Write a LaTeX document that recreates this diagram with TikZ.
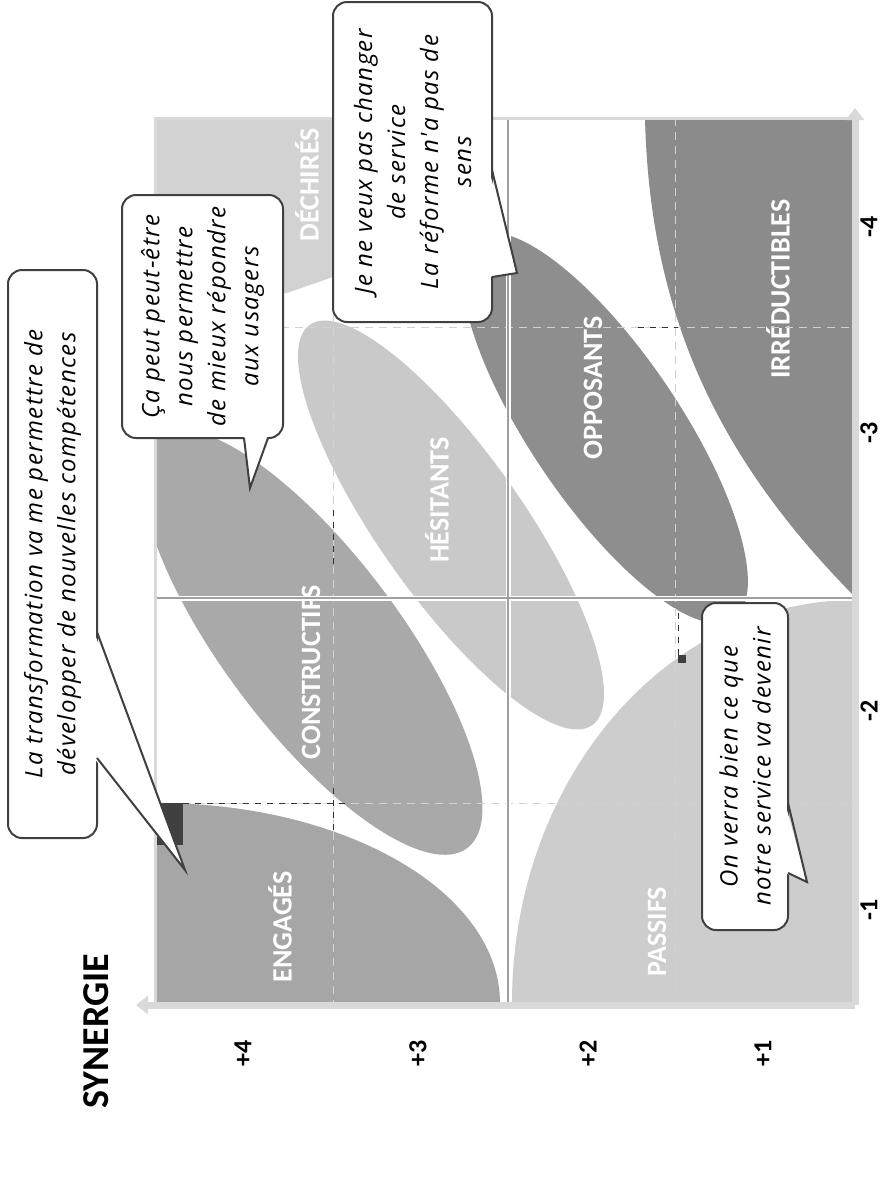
\documentclass[tikz,border=0pt]{standalone}
\usepackage{fontspec}
\setmainfont{Carlito}
\newfontfamily\handfont{Open Sans}[LetterSpace=6]
\usetikzlibrary{arrows.meta}
\definecolor{engage}{HTML}{A6A6A6}
\definecolor{construct}{HTML}{A9A9A9}
\definecolor{hesite}{HTML}{C9C9C9}
\definecolor{dechire}{HTML}{D2D2D2}
\definecolor{passif}{HTML}{CDCDCD}
\definecolor{oppose}{HTML}{8E8E8E}
\definecolor{irreduct}{HTML}{8B8B8B}
\tikzset{
  zone/.style={
    text=white,
    font=\bfseries\fontsize{14}{14}\selectfont,
    rotate=90,
    inner sep=0pt
  },
  bubble/.style={
    draw=black!75,
    line width=1pt,
    fill=white,
    rounded corners=7pt,
    rotate=90,
    align=center,
    inner sep=0pt,
    font=\handfont\itshape\fontsize{12}{16.5}\selectfont
  },
  tailline/.style={draw=black!75, line width=1pt},
  tick/.style={font=\bfseries\fontsize{13}{13}\selectfont, rotate=90},
  divider/.style={draw=gray!75, line width=0.9pt},
  gridline/.style={draw=gray!35, line width=0.5pt, dash pattern=on 4pt off 3pt},
  guide/.style={draw=black!80, line width=0.5pt, dash pattern=on 3pt off 3pt},
  axisbar/.style={draw=gray!30, line width=3.5pt, -{Triangle[length=6pt,width=9pt]}}
}

\begin{document}
\begin{tikzpicture}[x=0.5pt,y=-0.5pt]
    \useasboundingbox (0,0) rectangle (891,1179);

    \begin{scope}
    \clip (155,118) rectangle (855,1003);
    \fill[dechire] (155,118) -- (333,118) -- (333,277) -- (287,293) -- (155,293) -- cycle;
    \fill[passif] (855,1003) ellipse [x radius=343, y radius=403];
    \fill[engage] (157,1003) ellipse [x radius=343, y radius=200];
    \fill[irreduct] (645,118) .. controls (650,330) and (730,470) .. (855,597) -- (855,118) -- cycle;
    \fill[hesite, rotate around={-54.8:(451,525)}] (451,525) ellipse [x radius=245, y radius=72];
    \fill[construct, rotate around={-53:(312,642)}] (312,642) ellipse [x radius=258, y radius=88];
    \fill[oppose, rotate around={-56:(605,428)}] (605,428) ellipse [x radius=230, y radius=75];
    \end{scope}

    \node[zone] (dechires) at (307,185) {DÉCHIRÉS};
    \node[zone] (constructifs) at (311,672) {CONSTRUCTIFS};
    \node[zone] (hesitants) at (437,500) {HÉSITANTS};
    \node[zone] (opposants) at (593,388) {OPPOSANTS};
    \node[zone] (irreductibles) at (778,289) {IRRÉDUCTIBLES};
    \node[zone] (engages) at (280,927) {ENGAGÉS};
    \node[zone] (passifs) at (657,932) {PASSIFS};

    \foreach \gx in {333,675} \draw[gridline] (\gx,118) -- (\gx,1003);
    \foreach \gy in {327,803} \draw[gridline] (155,\gy) -- (855,\gy);
    \draw[draw=white, line width=2.5pt] (155,598) -- (855,598) (508,118) -- (508,1003);
    \draw[divider] (155,598) -- (855,598);
    \draw[divider] (508,118) -- (508,1003);
    \draw[draw=gray!30, line width=1.5pt] (155,1003) -- (155,118) -- (855,118);

    \draw[guide] (183,803) -- (347,803);
    \draw[guide] (333,788) -- (333,830);
    \draw[guide] (333,510) -- (333,570);
    \draw[guide] (638,327) -- (678,327);
    \draw[guide] (678,613) -- (678,660);
    \fill[black!75] (157,803) rectangle (183,845);
    \fill[black!75] (678,655) rectangle (686,663);

    \coordinate (orig) at (855,1005);
    \coordinate (synend) at (136,1005);
    \coordinate (antend) at (855,108);
    \draw[axisbar] (orig) -- (synend);
    \draw[axisbar] (orig) -- (antend);

    \node[bubble, minimum width=284pt, minimum height=44.5pt] (say1) at (52.5,554)
        {La transformation va me permettre de\\développer de nouvelles compétences};
    \coordinate (say1a) at (97,632);
    \coordinate (say1b) at (97,758);
    \coordinate (say1tip) at (185,870);
    \fill[white] ([xshift=-1.5pt]say1a) -- (say1tip) -- ([xshift=-1.5pt]say1b) -- cycle;
    \draw[tailline] (say1a) -- (say1tip) -- (say1b);

    \node[bubble, minimum width=121.5pt, minimum height=80.5pt] (say2) at (202.5,316.5)
        {Ça peut peut-être\\nous permettre\\de mieux répondre\\aux usagers};
    \coordinate (say2a) at (244,438);
    \coordinate (say2b) at (268,438);
    \coordinate (say2tip) at (250,488);
    \fill[white] ([yshift=1.5pt]say2a) -- (say2tip) -- ([yshift=1.5pt]say2b) -- cycle;
    \draw[tailline] (say2a) -- (say2tip) -- (say2b);

    \node[bubble, minimum width=160pt, minimum height=79.5pt] (say3) at (412.5,162)
        {Je ne veux pas changer\\de service\\La réforme n'a pas de\\sens};
    \coordinate (say3a) at (492,170);
    \coordinate (say3b) at (492,277);
    \coordinate (say3tip) at (517,273);
    \fill[white] ([xshift=-1.5pt]say3a) -- (say3tip) -- ([xshift=-1.5pt]say3b) -- cycle;
    \draw[tailline] (say3a) -- (say3tip) -- (say3b);

    \node[bubble, minimum width=163.5pt, minimum height=43pt] (say4) at (745,766.5)
        {On verra bien ce que\\notre service va devenir};
    \coordinate (say4a) at (788,803);
    \coordinate (say4b) at (788,873);
    \coordinate (say4tip) at (807,882);
    \fill[white] ([xshift=-1.5pt]say4a) -- (say4tip) -- ([xshift=-1.5pt]say4b) -- cycle;
    \draw[tailline] (say4a) -- (say4tip) -- (say4b);

    \node[font=\bfseries\fontsize{19}{19}\selectfont, rotate=90] (synergie) at (96,1031) {SYNERGIE};
    \foreach \v/\px in {4/243,3/418,2/588,1/763}
        \node[tick] (syn\v) at (\px,1053) {+\v};
    \foreach \v/\py in {1/910,2/711,3/433,4/227}
        \node[tick] (ant\v) at (869,\py) {-\v};
\end{tikzpicture}
\end{document}
